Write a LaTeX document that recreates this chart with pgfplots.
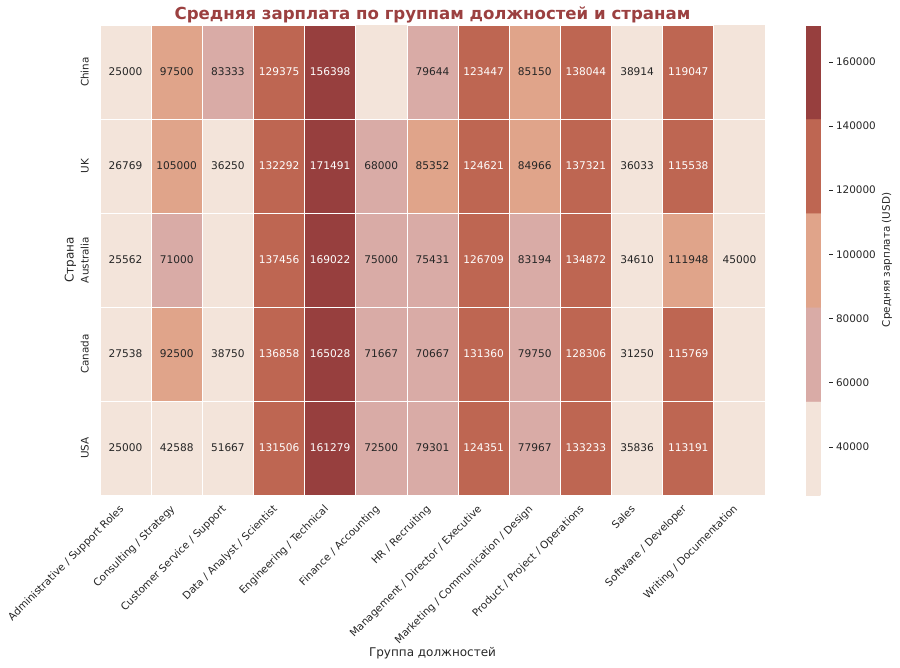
\documentclass[border=0pt]{standalone}
\usepackage{pgfplots}
\pgfplotsset{compat=1.18}
\usepackage{pgfplotstable}
\usepackage{fontspec}
\setmainfont{DejaVu Sans}
\definecolor{cLight}{RGB}{243,228,218}
\definecolor{txt}{RGB}{38,38,38}
\definecolor{titlecol}{RGB}{155,64,64}

% x: job group index, y: country index (0 China, 1 UK, 2 Australia, 3 Canada, 4 USA)
\pgfplotstableread{
x y z
0 0 25000
1 0 97500
2 0 83333
3 0 129375
4 0 156398
6 0 79644
7 0 123447
8 0 85150
9 0 138044
10 0 38914
11 0 119047
0 1 26769
1 1 105000
2 1 36250
3 1 132292
4 1 171491
5 1 68000
6 1 85352
7 1 124621
8 1 84966
9 1 137321
10 1 36033
11 1 115538
0 2 25562
1 2 71000
3 2 137456
4 2 169022
5 2 75000
6 2 75431
7 2 126709
8 2 83194
9 2 134872
10 2 34610
11 2 111948
12 2 45000
0 3 27538
1 3 92500
2 3 38750
3 3 136858
4 3 165028
5 3 71667
6 3 70667
7 3 131360
8 3 79750
9 3 128306
10 3 31250
11 3 115769
0 4 25000
1 4 42588
2 4 51667
3 4 131506
4 4 161279
5 4 72500
6 4 79301
7 4 124351
8 4 77967
9 4 133233
10 4 35836
11 4 113191
}\salarydata

\begin{document}
\begin{tikzpicture}
\path[use as bounding box] (0,0) rectangle (900pt,-668pt);
\begin{axis}[
  at={(100pt,-495pt)}, anchor=south west,
  scale only axis, width=665pt, height=470pt,
  xmin=-0.5, xmax=12.5, ymin=-0.5, ymax=4.5,
  y dir=reverse,
  axis line style={draw=none},
  major tick length=0pt, minor tick length=0pt,
  tick style={draw=none},
  axis background/.style={fill=cLight},
  minor xtick={0.5,1.5,...,11.5},
  minor ytick={0.5,1.5,2.5,3.5},
  xminorgrids, yminorgrids,
  minor grid style={draw=white, line width=0.8pt},
  xtick={0,...,12},
  ytick={0,...,4},
  xticklabels={Administrative / Support Roles, Consulting / Strategy, Customer Service / Support, Data / Analyst / Scientist, Engineering / Technical, Finance / Accounting, HR / Recruiting, Management / Director / Executive, Marketing / Communication / Design, Product / Project / Operations, Sales, Software / Developer, Writing / Documentation},
  yticklabels={China, UK, Australia, Canada, USA},
  xticklabel style={xshift=-7pt, yshift=-6pt, rotate=45, anchor=north east, font=\fontsize{10.4}{12}\selectfont, text=txt, inner sep=2pt},
  yticklabel style={rotate=90, anchor=south, font=\fontsize{10.4}{12}\selectfont, text=txt, inner sep=11pt},
  xlabel={Группа должностей},
  ylabel={Страна},
  xlabel style={at={(axis description cs:0.5,-0.3362)}, anchor=center, font=\fontsize{12}{14}\selectfont, text=txt},
  ylabel style={at={(axis description cs:-0.0445,0.5)}, anchor=center, font=\fontsize{12}{14}\selectfont, text=txt},
  title={Средняя зарплата по группам должностей и странам},
  every axis title/.style={at={(axis description cs:0.5,1)}, anchor=center, yshift=10pt, font=\fontsize{16.6}{19}\selectfont\bfseries, text=titlecol},
  colormap={salary}{
    rgb255(0cm)=(243,228,218) rgb255(1cm)=(243,228,218)
    rgb255(1.001cm)=(217,171,166) rgb255(2cm)=(217,171,166)
    rgb255(2.001cm)=(224,164,138) rgb255(3cm)=(224,164,138)
    rgb255(3.001cm)=(190,102,82) rgb255(4cm)=(190,102,82)
    rgb255(4.001cm)=(151,63,62) rgb255(5cm)=(151,63,62)},
  point meta min=25000, point meta max=171491,
  colorbar right,
  colorbar style={
    at={(parent axis.north east)}, anchor=north west, xshift=32.5pt,
    scale only axis, width=23pt, height=470pt,
    axis line style={draw=none},
    ytick={40000,60000,...,160000},
    yticklabel pos=right, ytick pos=right,
    ytick style={draw=txt, line width=0.6pt},
    tick align=outside, major tick length=3.5pt,
    yticklabel style={font=\fontsize{10.4}{12}\selectfont, text=txt, /pgf/number format/1000 sep={}, /pgf/number format/fixed, /pgf/number format/assume math mode=true},
    scaled y ticks=false,
    ylabel={Средняя зарплата (USD)},
    ylabel style={at={(axis description cs:3.52,0.5)}, anchor=center, font=\fontsize{10.4}{12}\selectfont, text=txt},
  },
]
\addplot[scatter, only marks, mark=square*, mark size=25.577pt,
  scatter/use mapped color={draw=white, fill=mapped color},
  mark options={yscale=1.8377, line width=0.8pt},
  point meta=explicit,
] table[x=x, y=y, meta=z] {\salarydata};
\addplot[only marks, mark=none,
  point meta=explicit,
  nodes near coords={\pgfmathtruncatemacro\hival{\pgfplotspointmetatransformed>=600}\ifnum\hival=1\color{white}\else\color{txt}\fi\pgfmathprintnumber[fixed,precision=0,1000 sep={},assume math mode=true]{\pgfplotspointmeta}},
  every node near coord/.append style={anchor=center, font=\fontsize{10.6}{12}\selectfont},
] table[x=x, y=y, meta=z] {\salarydata};
\end{axis}
\end{tikzpicture}
\end{document}
